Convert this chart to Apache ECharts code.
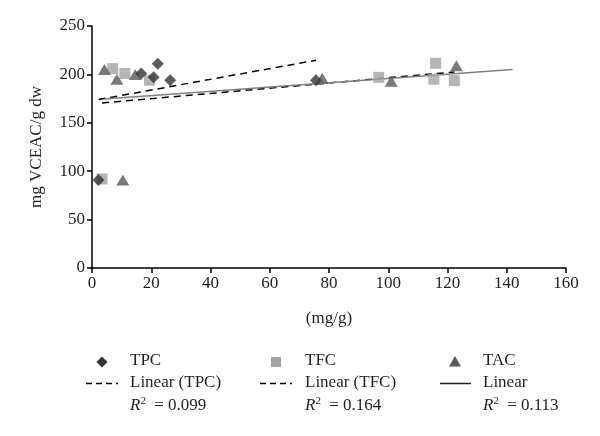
<!DOCTYPE html>
<html>
<head>
<meta charset="utf-8">
<script src="https://cdn.jsdelivr.net/npm/echarts@6/dist/echarts.min.js"></script>
<style>html,body{margin:0;padding:0;background:#fff}#c{width:600px;height:436px}</style>
</head>
<body>
<div id="c"></div>
<script>
// ---- data ----
var tpcX = [2.2, 16.6, 20.8, 22.2, 26.4, 75.6];
var tpcY = [91, 201, 197, 211, 194, 194];
var tfcX = [3.4, 7.0, 11.1, 19.4, 96.8, 115.4, 116.0, 122.3];
var tfcY = [92, 206, 201, 194, 197, 195, 211.5, 193.6];
var tacX = [4.2, 8.4, 10.4, 14.6, 77.7, 101.0, 123.0];
var tacY = [205, 195, 91, 200, 196, 193, 209];
// trend line endpoints
var tpcTrendX = [2.2, 75.6], tpcTrendY = [174, 214.6];
var tfcTrendX = [3.4, 122.3], tfcTrendY = [170.5, 202.5];
var tacTrendX = [4.2, 142], tacTrendY = [174.5, 205];
var xTicks = [0, 160, 20];
var yTicks = [0, 250, 50];
var legendNames = ['TPC', 'TFC', 'TAC'];
var trendNames = ['Linear (TPC)', 'Linear (TFC)', 'Linear'];
var r2Values = ['0.099', '0.164', '0.113'];

function pairs(xs, ys) { return xs.map(function (x, i) { return [x, ys[i]]; }); }

var FONT = 'Liberation Serif';
var FS = 17;
var TXT = '#231f20';
var chart = echarts.init(document.getElementById('c'));
var axisCommon = {
  axisLine: { show: true, lineStyle: { color: '#000', width: 1.5 } },
  axisTick: { show: true, inside: false, length: 5, lineStyle: { color: '#000', width: 1.5 } },
  splitLine: { show: false },
  axisLabel: { color: TXT, fontFamily: FONT, fontSize: FS },
  nameTextStyle: { color: TXT, fontFamily: FONT, fontSize: FS }
};

var legendCols = [
  { x: 102, symX: 86, symW: 32, col: 130, sym: 'diamond', color: '#333', dash: true },
  { x: 276, symX: 260, symW: 32, col: 305, sym: 'square', color: '#a3a3a3', dash: true },
  { x: 455, symX: 440, symW: 31, col: 483, sym: 'triangle', color: '#595959', dash: false }
];
var graphics = [];
var font = FS + 'px "' + FONT + '"';
legendCols.forEach(function (c, i) {
  if (c.sym === 'diamond') {
    graphics.push({ type: 'polygon', shape: { points: [[c.x, 356.5], [c.x + 5.5, 362], [c.x, 367.5], [c.x - 5.5, 362]] }, style: { fill: c.color } });
  } else if (c.sym === 'square') {
    graphics.push({ type: 'rect', shape: { x: c.x - 5, y: 357, width: 10, height: 10 }, style: { fill: c.color } });
  } else {
    graphics.push({ type: 'polygon', shape: { points: [[c.x, 356], [c.x + 6, 366.5], [c.x - 6, 366.5]] }, style: { fill: c.color } });
  }
  graphics.push({ type: 'text', x: c.col, y: 361, style: { text: legendNames[i], font: font, fill: TXT, verticalAlign: 'middle' } });
  graphics.push({ type: 'line', shape: { x1: c.symX, y1: 383.5, x2: c.symX + c.symW, y2: 383.5 }, style: { stroke: c.dash ? '#000' : '#222', lineWidth: 1.5, lineDash: c.dash ? [6, 4] : null } });
  graphics.push({ type: 'text', x: c.col, y: 383, style: { text: trendNames[i], font: font, fill: TXT, verticalAlign: 'middle' } });
  graphics.push({ type: 'text', x: c.col, y: 406, style: {
    text: '{i|R}{s|2} = ' + r2Values[i],
    font: font, fill: TXT, verticalAlign: 'middle',
    rich: { i: { fontStyle: 'italic', fontFamily: FONT, fontSize: FS, fill: TXT }, s: { fontFamily: FONT, fontSize: 11, verticalAlign: 'top', padding: [0, 4, 9, 0], fill: TXT } }
  } });
});

chart.setOption({
  animation: false,
  backgroundColor: '#fff',
  grid: { left: 92, right: 34, top: 26, bottom: 168, containLabel: false },
  xAxis: Object.assign({}, axisCommon, {
    type: 'value', min: xTicks[0], max: xTicks[1], interval: xTicks[2],
    name: '(mg/g)', nameLocation: 'middle', nameGap: 42,
    axisLabel: Object.assign({}, axisCommon.axisLabel, { margin: 7 })
  }),
  yAxis: Object.assign({}, axisCommon, {
    type: 'value', min: yTicks[0], max: yTicks[1], interval: yTicks[2],
    name: 'mg VCEAC/g dw', nameLocation: 'middle', nameGap: 47, nameRotate: 90,
    axisLabel: Object.assign({}, axisCommon.axisLabel, { margin: 7 })
  }),
  series: [
    { type: 'line', data: pairs(tpcTrendX, tpcTrendY), showSymbol: false, symbol: 'none', lineStyle: { color: '#000', width: 1.5, type: [7, 5] }, z: 2 },
    { type: 'line', data: pairs(tfcTrendX, tfcTrendY), showSymbol: false, symbol: 'none', lineStyle: { color: '#000', width: 1.5, type: [7, 5] }, z: 2 },
    { type: 'line', data: pairs(tacTrendX, tacTrendY), showSymbol: false, symbol: 'none', lineStyle: { color: '#808080', width: 1.5 }, z: 2 },
    { name: 'TPC', type: 'scatter', data: pairs(tpcX, tpcY), symbol: 'diamond', symbolSize: 12, itemStyle: { color: '#333333' }, z: 5 },
    { name: 'TFC', type: 'scatter', data: pairs(tfcX, tfcY), symbol: 'rect', symbolSize: 11, itemStyle: { color: '#a3a3a3' }, z: 4 },
    { name: 'TAC', type: 'scatter', data: pairs(tacX, tacY), symbol: 'triangle', symbolSize: [13, 11], itemStyle: { color: '#595959' }, z: 4 }
  ],
  graphic: graphics
});
</script>
</body>
</html>
